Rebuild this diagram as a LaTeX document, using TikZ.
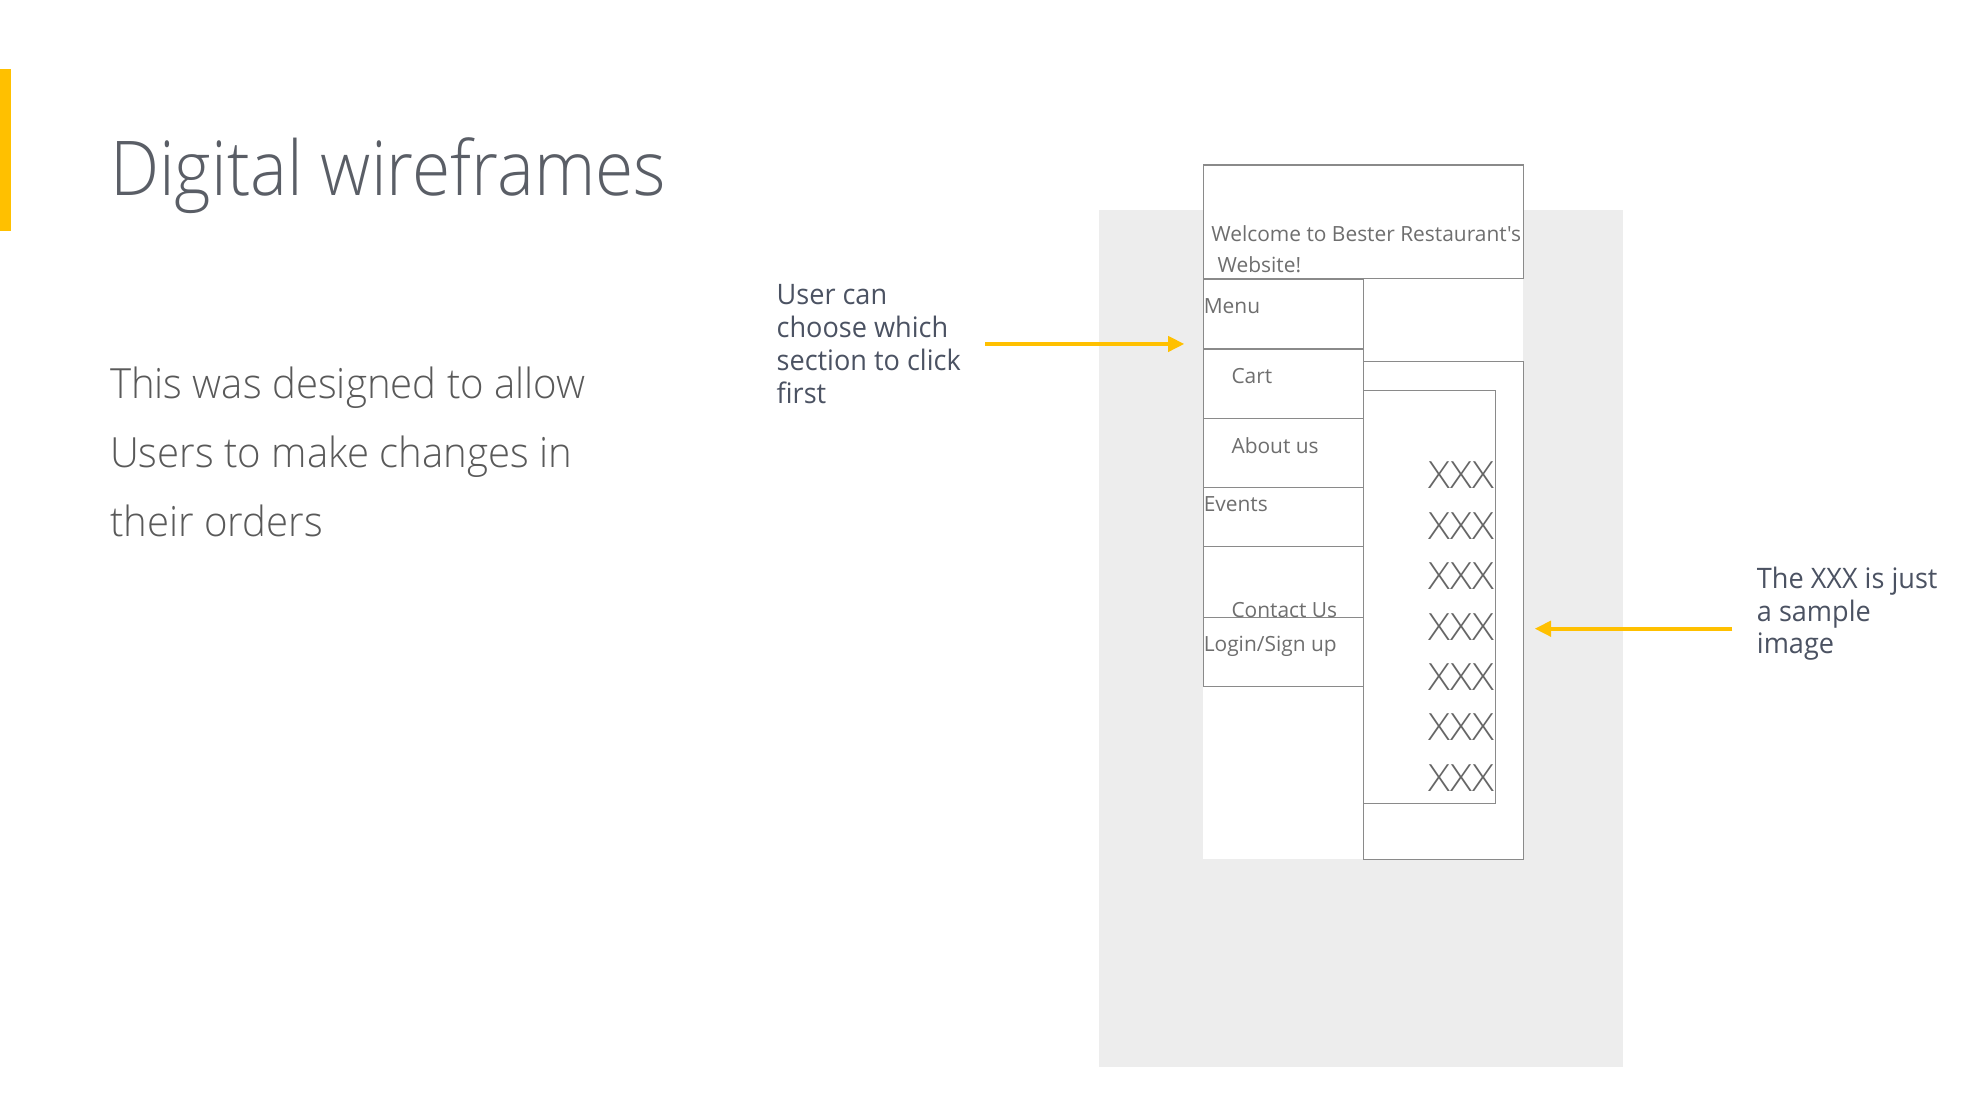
\documentclass[tikz,border=0pt]{standalone}
\usepackage{fontspec}
\usetikzlibrary{arrows.meta}
\newfontfamily\titlefont{Open Sans Light}[FakeStretch=0.92]
\newfontfamily\bodyfont{Open Sans Light}[FakeStretch=0.965]
\newfontfamily\notefont{Open Sans}[FakeStretch=0.96]
\newfontfamily\xxxfont{Open Sans Light}[FakeStretch=1.08]
\newfontfamily\uifont{Open Sans}
\setmainfont{Open Sans}
\definecolor{accent}{HTML}{FFC000}
\definecolor{titlecol}{HTML}{5A5E66}
\definecolor{bodycol}{HTML}{595959}
\definecolor{notecol}{HTML}{4B5262}
\definecolor{panel}{HTML}{EDEDED}
\definecolor{wire}{HTML}{8A8A8A}
\definecolor{wiretext}{HTML}{6E6E6E}
\definecolor{xxxcol}{HTML}{666666}
\begin{document}
\begin{tikzpicture}[x=0.5pt,y=-0.5pt,
  wirebox/.style={draw=wire,line width=0.5pt},
  wtext/.style={anchor=base west,inner sep=0pt,text=wiretext,font=\uifont\fontsize{8.3}{10}\selectfont},
  xxx/.style={anchor=base east,inner sep=0pt,text=xxxcol,font=\xxxfont\fontsize{14.9}{16}\selectfont},
  note/.style={anchor=base west,inner sep=0pt,text=notecol,font=\notefont\fontsize{11.2}{13}\selectfont},
  callout/.style={draw=accent,line width=1.6pt,-{Triangle[length=6.5pt,width=6pt]}}]
\useasboundingbox (0,0) rectangle (1567.5,881);
% accent bar
\fill[accent] (0,55) rectangle (9,183);
% title and body
\node[anchor=base west,inner sep=0pt,text=titlecol,font=\titlefont\fontsize{30}{36}\selectfont] (title) at (87,155) {Digital wireframes};
\node[anchor=base west,inner sep=0pt,text=bodycol,font=\bodyfont\fontsize{16.5}{27.5}\selectfont] (body) at (87,316) {\parbox[t]{300pt}{This was designed to allow\\Users to make changes in\\their orders}};
% notes
\node[note] (noteL) at (616,242) {\parbox[t]{100pt}{User can\\choose which\\section to click\\first}};
\node[note] (noteR) at (1394,467) {\parbox[t]{100pt}{The XXX is just\\a sample\\image}};
% panel and screen
\fill[panel] (872,167) rectangle (1288,847);
\fill[white] (955,131) rectangle (1209,682);
% header
\draw[wirebox] (955,131) rectangle (1209,221);
\node[wtext] (h1) at (961,192) {Welcome to Bester Restaurant's};
\node[wtext] (h2) at (966,216) {Website!};
% menu column
\draw[wirebox] (955,222) rectangle (1082,277);
\draw[wirebox] (955,277) rectangle (1082,332);
\draw[wirebox] (955,332) rectangle (1082,387);
\draw[wirebox] (955,387) rectangle (1082,434);
\draw[wirebox] (955,434) rectangle (1082,490);
\draw[wirebox] (955,490) rectangle (1082,545);
\node[wtext] (menu) at (955,249) {Menu};
\node[wtext] (cart) at (977,304) {Cart};
\node[wtext] (about) at (977,360) {About us};
\node[wtext] (events) at (955,406) {Events};
\node[wtext] (contact) at (977,490) {Contact Us};
\node[wtext] (login) at (955,517) {Login/Sign up};
% image area
\draw[wirebox] (1082,287) rectangle (1209,682);
\draw[wirebox] (1082,310) rectangle (1187,638);
\foreach \i in {0,...,6} {\node[xxx] (x\i) at (1186,388+40*\i) {XXX};}
% callout arrows
\coordinate (a1s) at (782,273);
\coordinate (a1e) at (940,273);
\draw[callout] (a1s) -- (a1e);
\coordinate (a2s) at (1375,499);
\coordinate (a2e) at (1218,499);
\draw[callout] (a2s) -- (a2e);
\end{tikzpicture}
\end{document}
